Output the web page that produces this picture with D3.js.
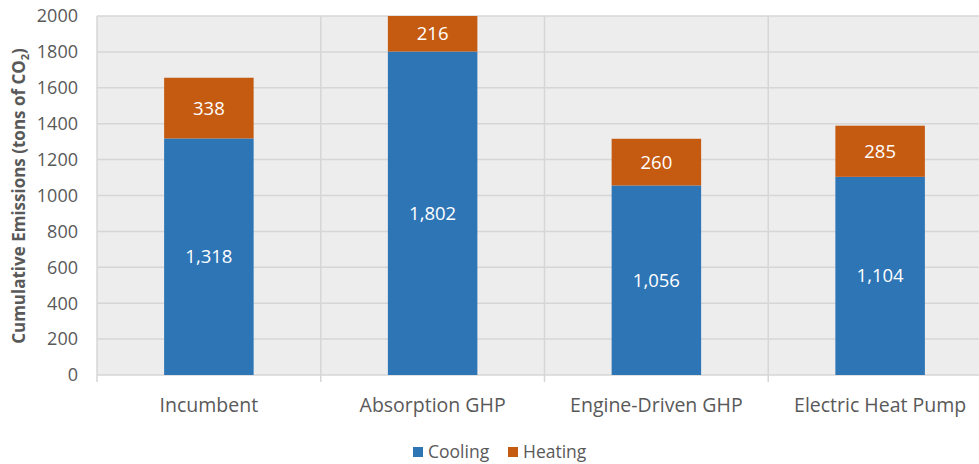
<!DOCTYPE html>
<html><head><meta charset="utf-8">
<script src="https://cdn.jsdelivr.net/npm/d3@7"></script>
<style>body{margin:0;background:#fff;} text{font-family:"Open Sans",sans-serif;}</style>
</head><body><svg id="c" width="979" height="464"></svg>
<script>
const categories = ["Incumbent", "Absorption GHP", "Engine-Driven GHP", "Electric Heat Pump"];
const cooling = [1318, 1802, 1056, 1104];
const heating = [338, 216, 260, 285];
const yTicks = [0, 200, 400, 600, 800, 1000, 1200, 1400, 1600, 1800, 2000];
const seriesNames = ["Cooling", "Heating"];
const colors = ["#2E75B6", "#C55A11"];

(function(){
const svg = d3.select("#c");
const pL = 97, pR = 992, pT = 16, pB = 375;
const x = d3.scaleBand().domain(categories).range([pL, pR]).padding(0);
const y = d3.scaleLinear().domain([0, 2000]).range([pB, pT]);

svg.append("defs").append("clipPath").attr("id","clip").append("rect")
  .attr("x", pL).attr("y", pT).attr("width", pR-pL).attr("height", pB-pT);

svg.append("rect").attr("x", pL).attr("y", pT).attr("width", pR-pL).attr("height", pB-pT).attr("fill", "#ededed");

svg.append("g").selectAll("line").data(yTicks).join("line")
  .attr("x1", pL).attr("x2", pR).attr("y1", d=>y(d)).attr("y2", d=>y(d))
  .attr("stroke", "#d6d6d6").attr("stroke-width", 1.5);
const bounds = categories.map(c=>x(c)).concat([pR]);
svg.append("g").selectAll("line").data(bounds).join("line")
  .attr("x1", d=>d).attr("x2", d=>d).attr("y1", pT).attr("y2", pB+7)
  .attr("stroke", "#d6d6d6").attr("stroke-width", 1.5);

const stack = d3.stack().keys([0,1]).value((d,k)=>d[k]);
const rows = categories.map((c,i)=>[cooling[i], heating[i]]);
const stacked = stack(rows);
const bw = x.bandwidth()*0.4;
const g = svg.append("g").attr("clip-path","url(#clip)");
stacked.forEach((s,si)=>{
  g.selectAll(null).data(s).join("rect")
    .attr("x",(d,i)=>x(categories[i])+x.bandwidth()/2-bw/2)
    .attr("width",bw)
    .attr("y",d=>y(d[1]))
    .attr("height",d=>y(d[0])-y(d[1]))
    .attr("fill",colors[si]);
});
const fmt = d3.format(",");
stacked.forEach((s,si)=>{
  svg.append("g").selectAll("text").data(s).join("text")
    .attr("x",(d,i)=>x(categories[i])+x.bandwidth()/2)
    .attr("y",d=>(y(Math.min(d[1],2000))+y(d[0]))/2)
    .attr("dy","0.35em").attr("text-anchor","middle")
    .attr("fill","#fff").attr("font-size",18.5)
    .text((d,i)=>fmt(si===0?cooling[i]:heating[i]));
});

svg.append("g").selectAll("text").data(yTicks).join("text")
  .attr("x", 78).attr("y", d=>y(d)).attr("dy","0.35em").attr("text-anchor","end")
  .attr("fill","#595959").attr("font-size",18).text(d=>d);

svg.append("g").selectAll("text").data(categories).join("text")
  .attr("x", d=>x(d)+x.bandwidth()/2).attr("y", 412)
  .attr("text-anchor","middle").attr("fill","#595959").attr("font-size",19.5).text(d=>d);

const yt = svg.append("text").attr("transform","translate(25,196) rotate(-90)")
  .attr("text-anchor","middle").attr("fill","#595959").attr("font-size",17).attr("font-weight","bold");
yt.append("tspan").text("Cumulative Emissions (tons of CO");
yt.append("tspan").attr("font-size",11).attr("dy",4).text("2");
yt.append("tspan").attr("dy",-4).text(")");

const leg = svg.append("g");
const legX = [413, 508];
seriesNames.forEach((n,i)=>{
  leg.append("rect").attr("x",legX[i]).attr("y",447).attr("width",10).attr("height",10).attr("fill",colors[i]);
  leg.append("text").attr("x",legX[i]+15).attr("y",452).attr("dy","0.35em").attr("fill","#595959").attr("font-size",17.5).text(n);
});
})();
</script></body></html>
